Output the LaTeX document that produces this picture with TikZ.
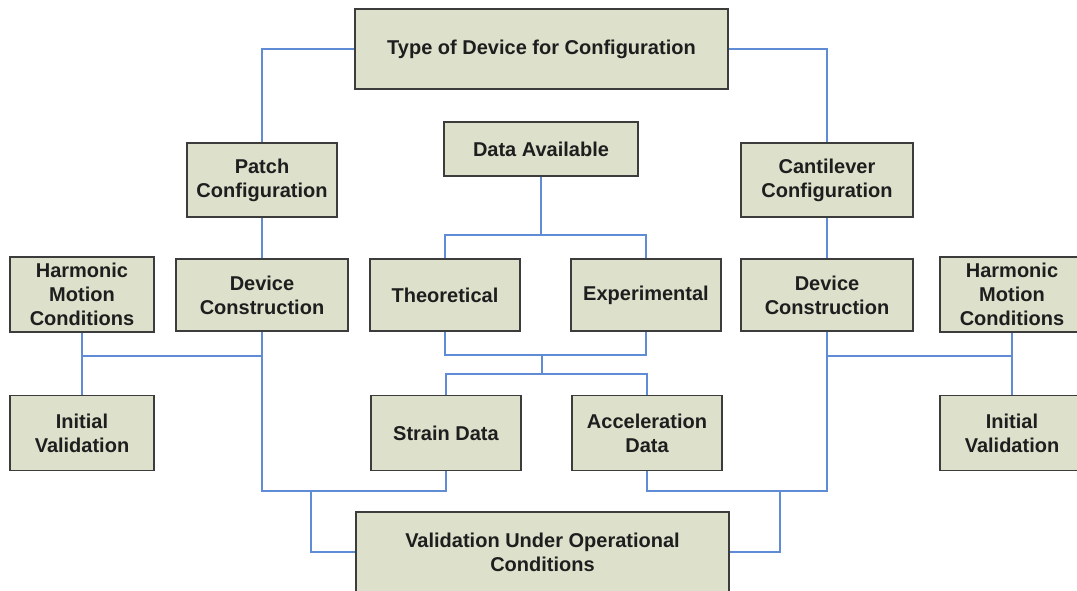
\documentclass[tikz,border=0pt]{standalone}
\usepackage{fontspec}
\setmainfont{Liberation Sans}
\definecolor{boxfill}{RGB}{221,224,203}
\definecolor{boxline}{RGB}{60,60,60}
\definecolor{conncol}{RGB}{95,140,212}
\definecolor{txt}{RGB}{30,30,30}
\begin{document}
\begin{tikzpicture}[x=1pt,y=-1pt,
  box/.style={draw=boxline, fill=boxfill, line width=1.5pt, rectangle, inner sep=0pt,
    align=center, text=txt, font=\fontsize{20}{24}\selectfont\bfseries},
  conn/.style={draw=conncol, line width=1.5pt}]
\useasboundingbox (0,0) rectangle (1077,590);
% nodes
\node[box, minimum width=373pt, minimum height=80pt] (top) at (541.5,49) {Type of Device for Configuration};
\node[box, minimum width=194pt, minimum height=54pt] (dataav) at (541,149) {Data Available};
\node[box, minimum width=150pt, minimum height=74pt] (patch) at (262,180) {Patch\\Configuration};
\node[box, minimum width=172pt, minimum height=74pt] (canti) at (827,180) {Cantilever\\Configuration};
\node[box, minimum width=144pt, minimum height=75pt] (harmL) at (82,294.5) {Harmonic\\Motion\\Conditions};
\node[box, minimum width=172pt, minimum height=72pt] (devL) at (262,295) {Device\\Construction};
\node[box, minimum width=150pt, minimum height=72pt] (theo) at (445,295) {Theoretical};
\node[box, minimum width=150pt, minimum height=72pt] (expe) at (646,295) {Experimental};
\node[box, minimum width=172pt, minimum height=72pt] (devR) at (827,295) {Device\\Construction};
\node[box, minimum width=144pt, minimum height=75pt] (harmR) at (1012,294.5) {Harmonic\\Motion\\Conditions};
\node[box, minimum width=144pt, minimum height=75pt] (initL) at (82,433) {Initial\\Validation};
\node[box, minimum width=150pt, minimum height=75pt] (strain) at (446,433) {Strain Data};
\node[box, minimum width=150pt, minimum height=75pt] (accel) at (647,433) {Acceleration\\Data};
\node[box, minimum width=144pt, minimum height=75pt] (initR) at (1012,433) {Initial\\Validation};
\node[box, minimum width=373pt, minimum height=80pt] (valid) at (542.5,552) {Validation Under Operational\\Conditions};
% junction coordinates
\coordinate (j1) at (541,235);
\coordinate (j2) at (542,355);
\coordinate (j3) at (542,374);
\coordinate (jL) at (82,356);
\coordinate (jR) at (1012,356);
\coordinate (bL) at (262,491);
\coordinate (bL2) at (311,491);
\coordinate (bR) at (827,491);
\coordinate (bR2) at (780,491);
% connectors
\draw[conn] (top.west) -| (patch.north);
\draw[conn] (top.east) -| (canti.north);
\draw[conn] (patch.south) -- (devL.north);
\draw[conn] (canti.south) -- (devR.north);
\draw[conn] (dataav.south) -- (j1);
\draw[conn] (theo.north) |- (j1) -| (expe.north);
\draw[conn] (theo.south) |- (j2) -| (expe.south);
\draw[conn] (j2) -- (j3);
\draw[conn] (strain.north) |- (j3) -| (accel.north);
\draw[conn] (harmL.south) -- (initL.north);
\draw[conn] (devL.south) |- (jL);
\draw[conn] (harmR.south) -- (initR.north);
\draw[conn] (devR.south) |- (jR);
\draw[conn] (devL.south) -- (bL) -| (strain.south);
\draw[conn] (bL2) |- (valid.west);
\draw[conn] (devR.south) -- (bR) -| (accel.south);
\draw[conn] (bR2) |- (valid.east);
\end{tikzpicture}
\end{document}
